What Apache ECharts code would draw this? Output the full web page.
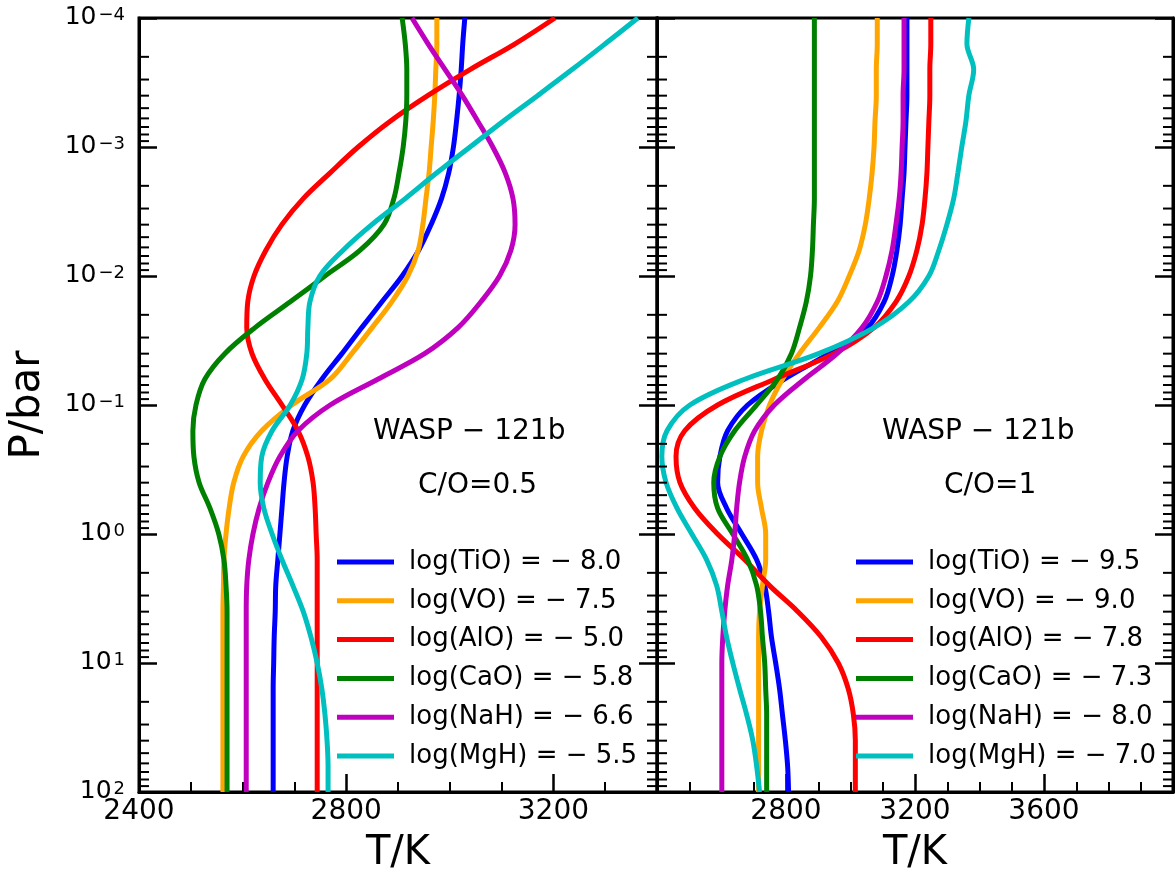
<!DOCTYPE html>
<html>
<head>
<meta charset="utf-8">
<script src="https://cdn.jsdelivr.net/npm/echarts@6/dist/echarts.min.js"></script>
<style>
  html, body { margin: 0; padding: 0; background: #fff; }
  #chart { width: 1176px; height: 880px; }
</style>
</head>
<body>
<div id="chart"></div>
<script>
// Pressure levels (bar) shared by all temperature profiles
const pressures = [1e-4, 1.585e-4, 2.512e-4, 3.981e-4, 6.310e-4, 1e-3, 1.585e-3, 2.512e-3, 3.981e-3, 6.310e-3,
  1e-2, 1.585e-2, 2.512e-2, 3.981e-2, 6.310e-2, 1e-1, 0.1585, 0.2512, 0.3981, 0.6310,
  1, 1.585, 2.512, 3.981, 6.310, 10, 15.85, 25.12, 39.81, 63.10, 100];

// C/O = 0.5 temperature profiles (K)
const leftTiO = [3029,3025,3022,3018,3013,3007,2998,2984,2964,2940,2908,2869,2830,2792,2753,2720,2697,2686,2680,2676,2672,2668,2664,2663,2661,2660,2659,2659,2659,2659,2659];
const leftVO  = [2975,2975,2973,2971,2968,2964,2960,2954,2948,2939,2919,2888,2850,2811,2769,2695,2637,2601,2583,2574,2568,2564,2563,2562,2562,2562,2562,2562,2562,2562,2562];
const leftAlO = [3203,3126,3039,2958,2885,2823,2769,2717,2676,2645,2622,2610,2608,2618,2643,2676,2707,2726,2736,2740,2742,2744,2744,2744,2744,2744,2744,2744,2744,2744,2744];
const leftCaO = [2908,2914,2917,2917,2915,2910,2902,2892,2873,2827,2759,2692,2624,2566,2527,2510,2504,2506,2516,2537,2554,2564,2568,2570,2570,2570,2570,2570,2570,2570,2570];
const leftNaH = [2927,2958,2991,3024,3054,3083,3107,3122,3126,3118,3096,3060,3016,2952,2861,2769,2707,2672,2649,2632,2620,2612,2608,2607,2607,2607,2607,2607,2607,2607,2607];
const leftMgH = [3363,3300,3236,3170,3103,3039,2975,2914,2850,2794,2749,2730,2726,2724,2715,2692,2657,2637,2634,2641,2657,2676,2697,2717,2732,2744,2753,2759,2763,2765,2765];

// C/O = 1 temperature profiles (K)
const rightTiO = [3175,3175,3175,3175,3172,3169,3166,3160,3154,3144,3129,3104,3052,2934,2795,2681,2619,2595,2588,2616,2663,2709,2734,2746,2755,2768,2780,2789,2798,2805,2808];
const rightVO  = [3083,3083,3080,3080,3076,3073,3067,3058,3046,3027,2996,2959,2903,2842,2789,2749,2724,2712,2712,2724,2737,2737,2727,2718,2715,2715,2715,2715,2715,2715,2715];
const rightAlO = [3249,3249,3246,3246,3243,3240,3237,3231,3222,3206,3181,3141,3073,2950,2764,2588,2486,2459,2471,2517,2588,2672,2749,2836,2910,2962,2993,3009,3015,3015,3015];
const rightCaO = [2888,2888,2888,2888,2888,2888,2888,2888,2885,2882,2876,2863,2842,2817,2774,2709,2641,2595,2576,2588,2635,2681,2709,2721,2727,2734,2737,2740,2740,2740,2740];
const rightNaH = [3166,3166,3166,3163,3163,3160,3157,3151,3141,3129,3110,3083,3036,2959,2857,2764,2703,2672,2656,2647,2641,2632,2619,2610,2604,2601,2601,2601,2601,2601,2601];
const rightMgH = [3367,3361,3382,3367,3358,3345,3333,3320,3299,3274,3243,3181,3073,2903,2672,2502,2431,2415,2428,2462,2508,2554,2585,2601,2616,2635,2656,2678,2697,2709,2718];

const leftNames  = ['log(TiO) = \u2212 8.0', 'log(VO) = \u2212 7.5', 'log(AlO) = \u2212 5.0', 'log(CaO) = \u2212 5.8', 'log(NaH) = \u2212 6.6', 'log(MgH) = \u2212 5.5'];
const rightNames = ['log(TiO) = \u2212 9.5', 'log(VO) = \u2212 9.0', 'log(AlO) = \u2212 7.8', 'log(CaO) = \u2212 7.3', 'log(NaH) = \u2212 8.0', 'log(MgH) = \u2212 7.0'];
const colors = ['#0000ff', '#ffa500', '#ff0000', '#008000', '#bf00bf', '#00bfbf'];

const leftTicks  = [2400, 2800, 3200];
const rightTicks = [2800, 3200, 3600];
const xRangeLeft  = [2400, 3400];
const xRangeRight = [2400, 4000];
const pRange = [1e-4, 1e2];

const FONT = 'DejaVu Sans';

// log-decade minor tick positions (2..9 × 10^k)
const minorP = [];
for (let e = -4; e < 2; e++) {
  for (let m = 2; m <= 9; m++) minorP.push(m * Math.pow(10, e));
}

function xAxisDef(grid, range, labels) {
  return {
    type: 'value', gridIndex: grid, min: range[0], max: range[1], interval: 400,
    axisLine: { show: true, lineStyle: { color: '#000', width: 3 } },
    axisTick: { show: true, inside: true, length: 18, lineStyle: { color: '#000', width: 2.5 } },
    minorTick: { show: true, splitNumber: 4, length: 10, lineStyle: { color: '#000', width: 2 } },
    splitLine: { show: false },
    minorSplitLine: { show: false },
    axisLabel: {
      show: true, margin: 6, fontFamily: FONT, fontSize: 28, color: '#000',
      showMinLabel: true, showMaxLabel: true,
      formatter: v => labels.indexOf(v) >= 0 ? String(v) : ''
    },
    name: 'T/K', nameLocation: 'middle', nameGap: 42,
    nameTextStyle: { fontFamily: FONT, fontSize: 40, color: '#000' }
  };
}

function supText(v) {
  const e = Math.round(Math.log10(v));
  return '{b|10}{s|' + (e < 0 ? '\u2212' + (-e) : String(e)) + '}';
}

function yAxisDef(grid, position, showLabels) {
  const ax = {
    type: 'log', logBase: 10, gridIndex: grid, min: pRange[0], max: pRange[1], inverse: true,
    position: position, splitNumber: 6,
    axisLine: { show: true, lineStyle: { color: '#000', width: 3 } },
    axisTick: { show: true, inside: true, length: 18, lineStyle: { color: '#000', width: 2.5 } },
    minorTick: { show: false },
    splitLine: { show: false },
    axisLabel: {
      show: showLabels, margin: 14, color: '#000', formatter: supText,
      rich: {
        b: { fontFamily: FONT, fontSize: 25, lineHeight: 24, verticalAlign: 'bottom', color: '#000' },
        s: { fontFamily: FONT, fontSize: 18, lineHeight: 16, padding: [0, 0, 14, 2], verticalAlign: 'top', color: '#000' }
      }
    }
  };
  if (showLabels) {
    ax.name = 'P/bar';
    ax.nameLocation = 'middle';
    ax.nameGap = 90;
    ax.nameTextStyle = { fontFamily: FONT, fontSize: 42, color: '#000' };
  }
  return ax;
}

function profile(temps) {
  return pressures.map((p, i) => [temps[i], p]);
}

function lineSeries(name, temps, color, xi, yi) {
  return {
    type: 'line', name: name, xAxisIndex: xi, yAxisIndex: yi,
    data: profile(temps), showSymbol: false, smooth: 0.35, clip: true,
    lineStyle: { color: color, width: 5 }, itemStyle: { color: color },
    emphasis: { disabled: true }, z: 2
  };
}

function minorTickSeries(xi, yi, range) {
  return {
    type: 'custom', xAxisIndex: xi, yAxisIndex: yi, silent: true, z: 5, clip: false,
    data: minorP.map(p => [range[0], p]),
    renderItem: (params, api) => {
      const p = api.value(1);
      const a = api.coord([range[0], p]);
      const b = api.coord([range[1], p]);
      const st = { stroke: '#000', lineWidth: 2 };
      return {
        type: 'group', children: [
          { type: 'line', shape: { x1: a[0], y1: a[1], x2: a[0] + 10, y2: a[1] }, style: st },
          { type: 'line', shape: { x1: b[0] - 10, y1: b[1], x2: b[0], y2: b[1] }, style: st }
        ]
      };
    }
  };
}

const leftData  = [leftTiO, leftVO, leftAlO, leftCaO, leftNaH, leftMgH];
const rightData = [rightTiO, rightVO, rightAlO, rightCaO, rightNaH, rightMgH];

const series = [];
leftData.forEach((d, i) => series.push(lineSeries(leftNames[i], d, colors[i], 0, 0)));
rightData.forEach((d, i) => series.push(lineSeries(rightNames[i], d, colors[i], 1, 2)));
series.push(minorTickSeries(0, 0, xRangeLeft));
series.push(minorTickSeries(1, 2, xRangeRight));

function legendDef(left, names) {
  return {
    orient: 'vertical', left: left, top: 542, itemWidth: 57, itemHeight: 5, itemGap: 8.8,
    icon: 'rect', selectedMode: false,
    textStyle: { fontFamily: FONT, fontSize: 26, lineHeight: 30, color: '#000', padding: [0, 0, 0, 10] },
    data: names
  };
}

const option = {
  animation: false,
  backgroundColor: '#fff',
  grid: [
    { left: 139, top: 18, width: 518, height: 774, show: true, borderColor: '#000', borderWidth: 3, backgroundColor: 'transparent' },
    { left: 657, top: 18, width: 518, height: 774, show: true, borderColor: '#000', borderWidth: 3, backgroundColor: 'transparent' }
  ],
  xAxis: [xAxisDef(0, xRangeLeft, leftTicks), xAxisDef(1, xRangeRight, rightTicks)],
  yAxis: [
    yAxisDef(0, 'left', true), yAxisDef(0, 'right', false),
    yAxisDef(1, 'left', false), yAxisDef(1, 'right', false)
  ],
  legend: [legendDef(332, leftNames), legendDef(851, rightNames)],
  series: series,
  graphic: [
    { type: 'text', left: 373, top: 418, style: { text: 'WASP \u2212 121b', fontFamily: FONT, fontSize: 28, fill: '#000' } },
    { type: 'text', left: 418, top: 472, style: { text: 'C/O=0.5', fontFamily: FONT, fontSize: 28, fill: '#000' } },
    { type: 'text', left: 882, top: 418, style: { text: 'WASP \u2212 121b', fontFamily: FONT, fontSize: 28, fill: '#000' } },
    { type: 'text', left: 944, top: 472, style: { text: 'C/O=1', fontFamily: FONT, fontSize: 28, fill: '#000' } }
  ]
};

const chart = echarts.init(document.getElementById('chart'), null, { renderer: 'canvas' });
chart.setOption(option);
</script>
</body>
</html>
